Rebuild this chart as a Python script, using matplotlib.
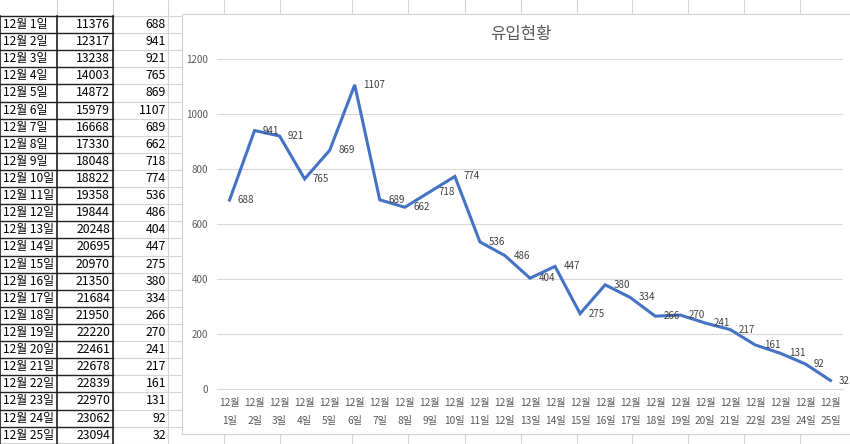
import matplotlib
matplotlib.use("Agg")
import matplotlib.pyplot as plt
from matplotlib.patches import Rectangle

plt.rcParams['font.family'] = ['Noto Sans CJK KR', 'DejaVu Sans']

days = [f"{d}일" for d in range(1, 26)]
row_labels = [f"12월 {d}" for d in days]
tick_labels = [f"12월\n{d}" for d in days]
cumulative = [11376, 12317, 13238, 14003, 14872, 15979, 16668, 17330, 18048,
              18822, 19358, 19844, 20248, 20695, 20970, 21350, 21684, 21950,
              22220, 22461, 22678, 22839, 22970, 23062, 23094]
daily = [688, 941, 921, 765, 869, 1107, 689, 662, 718, 774, 536, 486, 404,
         447, 275, 380, 334, 266, 270, 241, 217, 161, 131, 92, 32]
title = "유입현황"

W, H = 850, 444
fig = plt.figure(figsize=(W / 100, H / 100), dpi=100)
bg = fig.add_axes([0, 0, 1, 1], zorder=0)
bg.set_xlim(0, W)
bg.set_ylim(H, 0)
bg.axis('off')

grid_c = '#d4d4d4'
row_top = 16.0
row_h = 17.11
col_x = [0, 57, 113, 168]
extra_cols = [224, 280, 352, 408, 465, 521, 577, 632, 688, 744, 800]

# spreadsheet gridlines
for x in col_x[1:] + extra_cols:
    bg.plot([x, x], [0, H], color=grid_c, lw=0.8, zorder=1)
n_rows = len(daily)
ys = [row_top + i * row_h for i in range(n_rows + 1)]
for y in ys:
    bg.plot([0, W], [y, y], color=grid_c, lw=0.8, zorder=1)

# table cells
for i in range(n_rows):
    yc = ys[i] + row_h / 2
    bg.text(3, yc, row_labels[i], ha='left', va='center', fontsize=8.6, color='black', zorder=3)
    bg.text(col_x[2] - 3, yc, f"{cumulative[i]}", ha='right', va='center', fontsize=8.8, color='black', zorder=3)
    bg.text(col_x[3] - 2, yc, f"{daily[i]}", ha='right', va='center', fontsize=8.8, color='black', zorder=3)

# black borders around columns A-B
for y in ys:
    bg.plot([0, col_x[2]], [y, y], color='#222222', lw=1.0, zorder=2)
for x in col_x[:3]:
    bg.plot([x, x], [ys[0], H], color='#222222', lw=1.2, zorder=2)

# chart frame
bg.add_patch(Rectangle((182, 14), 700, 420, facecolor='white', edgecolor='#d0d0d0', lw=0.8, zorder=4))
bg.text(520.5, 35, title, ha='center', va='center', fontsize=12, color='#595959', zorder=5)

# plot area
left, right = 217 / W, 843 / W
bottom, top = (H - 389.3) / H, (H - 59.3) / H
ax = fig.add_axes([left, bottom, right - left, top - bottom], zorder=5)
ax.patch.set_alpha(0)
x = list(range(n_rows))
ax.plot(x, daily, color='#4472C4', lw=2.2, solid_joinstyle='miter', zorder=3)
for xi, v in zip(x, daily):
    ax.annotate(f"{v}", (xi, v), xytext=(6, 0), textcoords='offset points',
                ha='left', va='center', fontsize=7, color='#404040')
ax.set_xlim(-0.5, n_rows - 0.5)
ax.set_ylim(0, 1200)
ax.set_yticks(range(0, 1201, 200))
ax.set_xticks(x)
ax.set_xticklabels(tick_labels, fontsize=7.3, color='#595959', linespacing=2.0)
ax.tick_params(axis='y', length=0, pad=6.5, labelsize=7, labelcolor='#595959')
ax.tick_params(axis='x', length=0, pad=6)
ax.grid(axis='y', color='#d9d9d9', lw=0.8)
ax.set_axisbelow(True)
for s in ['top', 'right', 'left']:
    ax.spines[s].set_visible(False)
ax.spines['bottom'].set_color('#d9d9d9')
ax.spines['bottom'].set_linewidth(0.8)

fig.savefig('out.png', dpi=100)
